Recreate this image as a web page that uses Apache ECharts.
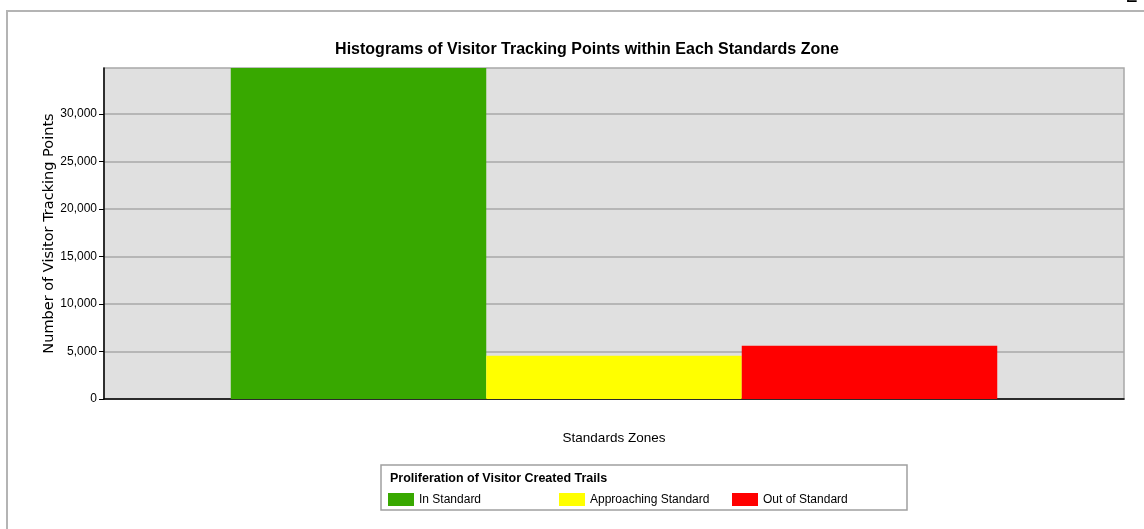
<!DOCTYPE html>
<html>
<head>
<meta charset="utf-8">
<script src="https://cdn.jsdelivr.net/npm/echarts@6/dist/echarts.min.js"></script>
<style>
  html, body { margin: 0; padding: 0; background: #fff; }
  #chart { width: 1144px; height: 529px; }
</style>
</head>
<body>
<div id="chart"></div>
<script>
// zones shown as bars (one histogram bin each)
const zones = ['In Standard', 'Approaching Standard', 'Out of Standard'];
const counts = [34840, 4560, 5610];
const yTicks = [0, 5000, 10000, 15000, 20000, 25000, 30000];

const zoneColors = ['#38a800', '#ffff00', '#ff0000'];
const sans = '"Liberation Sans", Arial, sans-serif';

function withCommas(v) {
    return String(v).replace(/\B(?=(\d{3})+(?!\d))/g, ',');
}

const chart = echarts.init(document.getElementById('chart'), null, { renderer: 'canvas' });

const legendLefts = [388, 559, 732];

const option = {
    animation: false,
    backgroundColor: '#fff',
    title: {
        text: 'Histograms of Visitor Tracking Points within Each Standards Zone',
        left: 582,
        top: 37,
        textAlign: 'center',
        textStyle: { fontFamily: sans, fontSize: 16, fontWeight: 'bold', color: '#000' }
    },
    legend: zones.map((name, i) => ({
        data: [name],
        left: legendLefts[i],
        top: 493,
        padding: 0,
        itemWidth: 26,
        itemHeight: 13,
        itemGap: 0,
        icon: 'rect',
        selectedMode: false,
        textStyle: { fontFamily: sans, fontSize: 12, color: '#000' }
    })),
    grid: {
        left: 104,
        right: 20,
        top: 68,
        bottom: 130,
        show: true,
        backgroundColor: '#e0e0e0',
        borderColor: '#a8a8a8',
        borderWidth: 1.5
    },
    xAxis: {
        type: 'category',
        data: ['Standards Zones'],
        name: 'Standards Zones',
        nameLocation: 'middle',
        nameGap: 32,
        nameTextStyle: { fontFamily: sans, fontSize: 13.5, color: '#000' },
        axisLine: { lineStyle: { color: '#000', width: 1.5 } },
        axisTick: { show: false },
        axisLabel: { show: false }
    },
    yAxis: {
        type: 'value',
        min: 0,
        max: 34850,
        interval: 5000,
        name: 'Number of Visitor Tracking Points',
        nameLocation: 'middle',
        nameGap: 47,
        nameMoveOverlap: false,
        nameTextStyle: { fontFamily: '"DejaVu Sans", sans-serif', fontSize: 14.5, color: '#000' },
        axisLine: { show: true, lineStyle: { color: '#000', width: 1.5 } },
        axisTick: { show: true, length: 5, lineStyle: { color: '#000', width: 1 }, customValues: yTicks },
        axisLabel: {
            customValues: yTicks,
            margin: 7,
            fontFamily: sans,
            fontSize: 12,
            color: '#000',
            formatter: withCommas
        },
        splitLine: { lineStyle: { color: '#a8a8a8', width: 1.5 } }
    },
    series: zones.map((name, i) => ({
        name: name,
        type: 'bar',
        data: [counts[i]],
        barWidth: 255.5,
        barGap: '0%',
        itemStyle: { color: zoneColors[i] }
    })),
    graphic: [
        {
            type: 'rect',
            shape: { x: 7, y: 11, width: 1160, height: 540 },
            style: { fill: 'none', stroke: '#b4b4b4', lineWidth: 2 },
            silent: true
        },
        {
            type: 'rect',
            shape: { x: 381, y: 465, width: 526, height: 45 },
            style: { fill: 'none', stroke: '#a0a0a0', lineWidth: 1.5 },
            silent: true
        },
        {
            type: 'text',
            left: 390,
            top: 472,
            style: {
                text: 'Proliferation of Visitor Created Trails',
                fontFamily: sans,
                fontSize: 12.5,
                fontWeight: 'bold',
                fill: '#000'
            }
        },
        {
            type: 'text',
            left: 1126,
            top: -16,
            style: { text: '2', fontFamily: '"Liberation Serif", serif', fontSize: 24, fill: '#000' }
        }
    ]
};

chart.setOption(option);
</script>
</body>
</html>
